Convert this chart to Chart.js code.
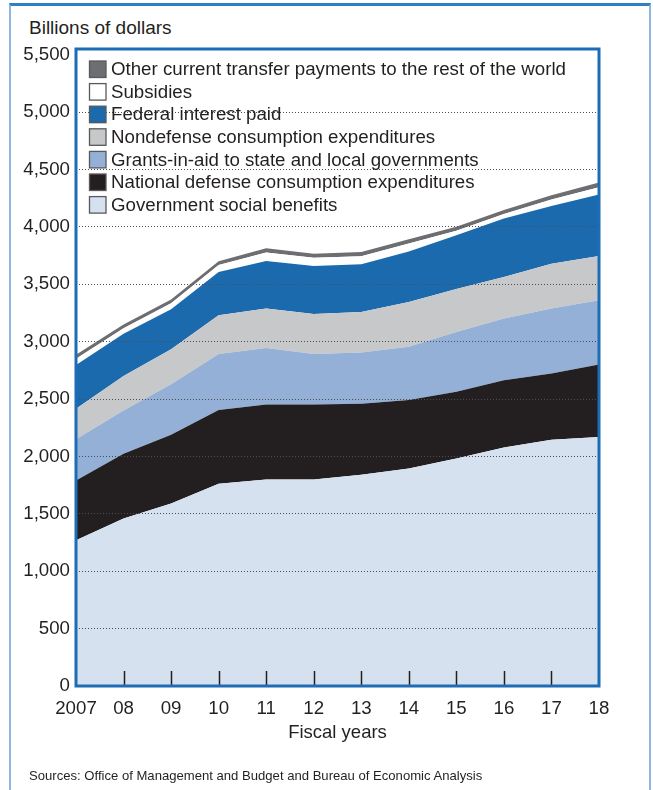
<!DOCTYPE html>
<html>
<head>
<meta charset="utf-8">
<script src="https://cdn.jsdelivr.net/npm/chart.js@4.4.1/dist/chart.umd.min.js"></script>
<style>
  body { margin: 0; background: #fff; width: 653px; height: 790px; overflow: hidden; position: relative;
         font-family: "Liberation Sans", Arial, sans-serif; color: #231f20; }
  #frame { position: absolute; left: 9px; top: 3px; width: 638px; height: 830px;
           border: 2px solid #8db7e0; border-top: 3px solid #2f7fc4; }
  #unit { position: absolute; left: 29px; top: 18px; font-size: 19px; line-height: 19px; white-space: nowrap; }
  #sources { position: absolute; left: 29px; top: 769px; font-size: 13.1px; line-height: 13px; white-space: nowrap; }
  #chart { position: absolute; left: 0; top: 0; }
</style>
</head>
<body>
<div id="frame"></div>
<div id="unit">Billions of dollars</div>
<canvas id="chart" width="653" height="790"></canvas>
<div id="sources">Sources: Office of Management and Budget and Bureau of Economic Analysis</div>
<script>
// DATA (billions of dollars)
const years = ['2007', '08', '09', '10', '11', '12', '13', '14', '15', '16', '17', '18'];
const socialBenefits = [1270, 1460, 1590, 1762, 1799, 1799, 1840, 1896, 1983, 2078, 2145, 2170];
const defenseConsumption = [520, 563, 598, 643, 654, 654, 620, 595, 580, 587, 578, 631];
const grantsInAid = [360, 377, 442, 488, 492, 439, 445, 464, 522, 536, 565, 560];
const nondefenseConsumption = [265, 300, 305, 337, 343, 349, 354, 391, 375, 363, 392, 386];
const interestPaid = [382, 370, 347, 378, 415, 419, 415, 439, 467, 509, 503, 535];
const subsidies = [55, 47, 52, 60, 74, 72, 70, 70, 40, 40, 55, 64];
const otherTransfers = [33, 33, 33, 33, 38, 34, 38, 37, 35, 35, 38, 40];

const yTicks = [0, 500, 1000, 1500, 2000, 2500, 3000, 3500, 4000, 4500, 5000, 5500];

// stacked from the bottom up
const seriesList = [
    { label: 'Government social benefits', data: socialBenefits, color: '#d5e1ef' },
    { label: 'National defense consumption expenditures', data: defenseConsumption, color: '#231f20' },
    { label: 'Grants-in-aid to state and local governments', data: grantsInAid, color: '#94b0d6' },
    { label: 'Nondefense consumption expenditures', data: nondefenseConsumption, color: '#c7c8ca' },
    { label: 'Federal interest paid', data: interestPaid, color: '#1c6aae' },
    { label: 'Subsidies', data: subsidies, color: '#ffffff' },
    { label: 'Other current transfer payments to the rest of the world', data: otherTransfers, color: '#6d6e71' }
];

const FONT = '"Liberation Sans", Arial, sans-serif';
const TEXT_COLOR = '#231f20';

// legend drawn inside the plot, top item = top layer
const insideLegend = {
    id: 'insideLegend',
    afterDraw(chart) {
        const ctx = chart.ctx;
        const sets = chart.data.datasets;
        ctx.save();
        ctx.font = '18.7px ' + FONT;
        ctx.textBaseline = 'middle';
        ctx.textAlign = 'left';
        let row = 0;
        for (let i = sets.length - 1; i >= 0; i--) {
            const cy = 69 + row * 22.6;
            ctx.fillStyle = sets[i].backgroundColor;
            ctx.fillRect(89.5, cy - 8, 16.5, 16.5);
            ctx.strokeStyle = '#58595b';
            ctx.lineWidth = 1.3;
            ctx.strokeRect(89.5, cy - 8, 16.5, 16.5);
            ctx.fillStyle = TEXT_COLOR;
            ctx.fillText(sets[i].label, 111, cy + 1);
            row++;
        }
        ctx.restore();
    }
};

// year tick marks inside the plot and the blue plot border
const plotFrame = {
    id: 'plotFrame',
    afterDraw(chart) {
        const ctx = chart.ctx;
        const area = chart.chartArea;
        const xs = chart.scales.x;
        ctx.save();
        ctx.strokeStyle = '#231f20';
        ctx.lineWidth = 1.5;
        for (let i = 1; i < years.length - 1; i++) {
            const px = Math.round(xs.getPixelForValue(i)) + 0.5;
            ctx.beginPath();
            ctx.moveTo(px, area.bottom);
            ctx.lineTo(px, area.bottom - 15);
            ctx.stroke();
        }
        ctx.strokeStyle = '#1c6db5';
        ctx.lineWidth = 3;
        ctx.strokeRect(area.left, area.top, area.right - area.left, area.bottom - area.top);
        ctx.restore();
    }
};

const chart_datasets = seriesList.map((s, i) => ({
    label: s.label,
    data: s.data,
    backgroundColor: s.color,
    borderColor: 'rgba(0,0,0,0)',
    borderWidth: 0,
    pointRadius: 0,
    tension: 0,
    fill: i === 0 ? 'origin' : '-1'
}));

new Chart(document.getElementById('chart'), {
    type: 'line',
    data: { labels: years, datasets: chart_datasets },
    options: {
        responsive: false,
        animation: false,
        devicePixelRatio: 1,
        layout: { padding: { top: 49, right: 54, bottom: 0, left: 0 } },
        plugins: { legend: { display: false }, tooltip: { enabled: false } },
        scales: {
            x: {
                type: 'category',
                offset: false,
                grid: { display: false, drawTicks: false },
                border: { display: false },
                ticks: { color: TEXT_COLOR, font: { family: FONT, size: 18.7 }, padding: 12, maxRotation: 0, autoSkip: false },
                title: { display: true, text: 'Fiscal years', color: TEXT_COLOR,
                         font: { family: FONT, size: 18.5 }, padding: { top: 0, bottom: 46 } },
                afterFit: (s) => { s.height = 104; }
            },
            y: {
                stacked: true,
                min: 0,
                max: 5550,
                afterBuildTicks: (s) => { s.ticks = yTicks.map(v => ({ value: v })); },
                ticks: {
                    color: TEXT_COLOR,
                    font: { family: FONT, size: 18.7 },
                    padding: 6,
                    callback: (v) => v.toLocaleString('en-US')
                },
                grid: {
                    z: 1,
                    drawTicks: false,
                    lineWidth: 1,
                    color: (c) => (c.tick && (c.tick.value === 0 || c.tick.value === 5500)) ? 'rgba(0,0,0,0)' : '#4d4d4f'
                },
                border: { display: false, dash: [1, 2] },
                afterFit: (s) => { s.width = 76; }
            }
        }
    },
    plugins: [insideLegend, plotFrame]
});
</script>
</body>
</html>
